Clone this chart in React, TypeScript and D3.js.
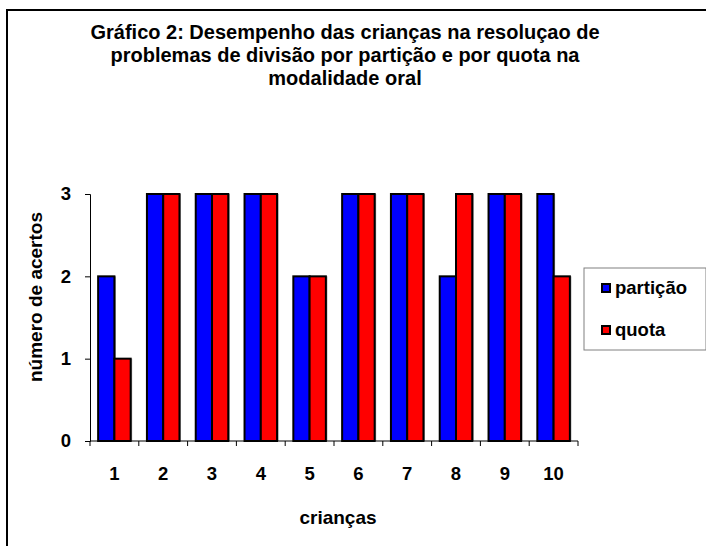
import React, { useEffect, useRef } from "react";
import * as d3 from "d3";

// chart data
const criancas = ["1", "2", "3", "4", "5", "6", "7", "8", "9", "10"];
const particao = [2, 3, 3, 3, 2, 3, 3, 2, 3, 3];
const quota = [1, 3, 3, 3, 2, 3, 3, 3, 3, 2];
const seriesNames = ["partição", "quota"];
const seriesColors = ["#0000ff", "#ff0000"];
const yTicks = [0, 1, 2, 3];
const titleLines = [
  "Gráfico 2: Desempenho das crianças na resoluçao de",
  "problemas de divisão por partição e por quota na",
  "modalidade oral",
];

export default function App() {
  const ref = useRef<SVGSVGElement>(null);

  useEffect(() => {
    const svgWidth = 706;
    const svgHeight = 546;
    const font = "'Liberation Sans', Arial, sans-serif";

    const svg = d3.select(ref.current);
    svg.selectAll("*").remove();
    svg.attr("width", svgWidth).attr("height", svgHeight);

    // chart frame (runs past the right and bottom edges)
    svg
      .append("rect")
      .attr("x", 7)
      .attr("y", 10)
      .attr("width", 740)
      .attr("height", 600)
      .attr("fill", "#fff")
      .attr("stroke", "#000")
      .attr("stroke-width", 2);

    // plot area bounds
    const left = 90;
    const right = 578;
    const top = 194;
    const bottom = 441;

    const x = d3.scaleBand().domain(criancas).range([left, right]);
    const x1 = d3
      .scaleBand()
      .domain(seriesNames)
      .range([0, x.bandwidth()])
      .paddingOuter(0.5)
      .paddingInner(0);
    const y = d3.scaleLinear().domain([0, 3]).range([bottom, top]);

    // title
    svg
      .append("text")
      .attr("font-family", font)
      .attr("font-weight", "bold")
      .attr("font-size", 20)
      .attr("text-anchor", "middle")
      .selectAll("tspan")
      .data(titleLines)
      .enter()
      .append("tspan")
      .attr("x", 345)
      .attr("y", (d, i) => 39 + i * 23)
      .text((d) => d);

    // bars
    const values = [particao, quota];
    const g = svg.append("g");
    values.forEach((vals, s) => {
      g.selectAll(null)
        .data(vals)
        .enter()
        .append("rect")
        .attr("x", (d, i) => x(criancas[i])! + x1(seriesNames[s])! + 1.5)
        .attr("y", (d) => y(d))
        .attr("width", x1.bandwidth())
        .attr("height", (d) => bottom - y(d))
        .attr("fill", "#999");
    });
    values.forEach((vals, s) => {
      g.selectAll(null)
        .data(vals)
        .enter()
        .append("rect")
        .attr("x", (d, i) => x(criancas[i])! + x1(seriesNames[s])!)
        .attr("y", (d) => y(d))
        .attr("width", x1.bandwidth())
        .attr("height", (d) => bottom - y(d))
        .attr("fill", seriesColors[s])
        .attr("stroke", "#000")
        .attr("stroke-width", 2);
    });

    // y axis
    const yAxis = svg
      .append("g")
      .attr("transform", `translate(${left},0)`)
      .call(
        d3
          .axisLeft(y)
          .tickValues(yTicks)
          .tickSize(5)
          .tickPadding(14)
          .tickFormat(d3.format("d"))
      );
    yAxis
      .selectAll("text")
      .attr("font-family", font)
      .attr("font-weight", "bold")
      .attr("font-size", 18.5)
      .attr("fill", "#000");

    // x axis
    const xAxis = svg
      .append("g")
      .attr("transform", `translate(0,${bottom})`)
      .call(d3.axisBottom(x).tickSize(0).tickPadding(26));
    xAxis.select(".domain").attr("d", `M${left},0H${right}`);
    xAxis
      .selectAll("text")
      .attr("font-family", font)
      .attr("font-weight", "bold")
      .attr("font-size", 18.5)
      .attr("fill", "#000");
    xAxis
      .selectAll("line.sep")
      .data(d3.range(criancas.length + 1))
      .enter()
      .append("line")
      .attr("class", "sep")
      .attr("x1", (i) => left + i * x.step())
      .attr("x2", (i) => left + i * x.step())
      .attr("y1", 0)
      .attr("y2", 5)
      .attr("stroke", "#000");

    // axis titles
    svg
      .append("text")
      .attr("x", (left + right) / 2 + 4)
      .attr("y", 524)
      .attr("text-anchor", "middle")
      .attr("font-family", font)
      .attr("font-weight", "bold")
      .attr("font-size", 19)
      .text("crianças");

    svg
      .append("text")
      .attr("transform", "translate(42,297) rotate(-90)")
      .attr("text-anchor", "middle")
      .attr("font-family", font)
      .attr("font-weight", "bold")
      .attr("font-size", 19)
      .text("número de acertos");

    // legend
    const legend = svg.append("g").attr("transform", "translate(584,268)");
    legend
      .append("rect")
      .attr("width", 122)
      .attr("height", 82)
      .attr("fill", "#fff")
      .attr("stroke", "#808080")
      .attr("stroke-width", 1);
    const item = legend
      .selectAll("g.item")
      .data(seriesNames)
      .enter()
      .append("g")
      .attr("class", "item")
      .attr("transform", (d, i) => `translate(18,${16 + i * 42})`);
    item
      .append("rect")
      .attr("width", 8)
      .attr("height", 8)
      .attr("fill", (d, i) => seriesColors[i])
      .attr("stroke", "#000")
      .attr("stroke-width", 2);
    item
      .append("text")
      .attr("x", 13)
      .attr("y", 10)
      .attr("font-family", font)
      .attr("font-weight", "bold")
      .attr("font-size", 18.5)
      .text((d) => d);
  }, []);

  return (
    <svg
      ref={ref}
      style={{ position: "absolute", left: 0, top: 0, display: "block" }}
    />
  );
}
